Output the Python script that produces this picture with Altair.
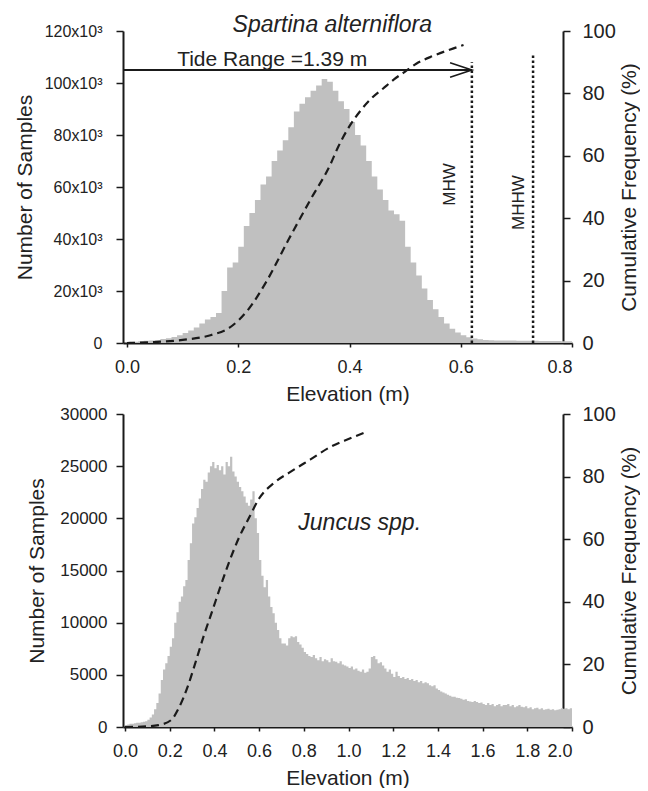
import altair as alt
import pandas as pd

FONT = "Liberation Sans"
GRAY = "#c0c0c0"
INK = "#1a1a1a"

# ---------------- Spartina alterniflora (top) ----------------
top_bin_width = 0.01
top_counts = [
    300, 500, 700, 900, 1000, 1200, 1500, 1800, 2300, 3000,
    3800, 4800, 6000, 7500, 9000, 10000, 11500, 20000, 29000, 31000,
    37000, 45000, 50000, 55000, 61000, 64000, 70000, 74000, 78000, 83000,
    89000, 92000, 94500, 97000, 99000, 101500, 100500, 97000, 93000, 90000,
    85000, 80000, 76000, 70000, 64000, 59000, 55000, 51000, 49500, 47000,
    37000, 31000, 26000, 21000, 16500, 13000, 10000, 7500, 5500, 4000,
    3000, 2200, 1700, 1400, 1200, 1100, 1000, 1000, 950, 950,
    900, 900, 850, 850, 800, 800, 750, 750, 700, 700,
]
top_cum_elev = [0.0, 0.05, 0.10, 0.15, 0.185, 0.217, 0.25, 0.29, 0.33, 0.365,
                0.38, 0.40, 0.42, 0.44, 0.46, 0.48, 0.50, 0.52, 0.55, 0.58, 0.605]
top_cum_pct = [0, 0.3, 1.0, 2.5, 5, 10.5, 19.5, 33, 46, 57,
               63, 69.5, 74.5, 78.5, 81.5, 84.5, 87, 89.5, 92, 94, 95.5]

mhw = 0.62
mhhw = 0.73
mhw_top = 108000
mhhw_top = 110700
tide_y = 105000

# ---------------- Juncus spp. (bottom) ----------------
bot_bin_width = 0.01
bot_counts = [
    200, 250, 300, 300, 350, 400, 400, 450, 500, 550,
    700, 900, 1200, 1700, 2300, 3200, 4500, 5500, 6100, 6800,
    7700, 8500, 10000, 11000, 12000, 12500, 13500, 14100, 16000, 17600,
    19500, 20100, 21000, 21900, 22800, 23700, 23500, 24400, 25000, 25400,
    24800, 25100, 24600, 25000, 24200, 25400, 25000, 25900, 24500, 24000,
    23500, 23000, 22600, 22100, 21500, 21200, 21800, 22600, 20000, 18600,
    16000, 14500, 13400, 14100, 12500, 11500, 10900, 10000, 9300, 8500,
    8000, 8000, 7800, 8500, 8700, 8600, 8700, 8150, 7900, 7600,
    7200, 7000, 6800, 6700, 6900, 6600, 6400, 6700, 6300, 6500,
    6400, 6200, 6600, 6300, 6250, 6100, 6300, 6000, 5900, 5800,
    5650, 5800, 5500, 5600, 5400, 5300, 5500, 5200, 5300, 5600,
    6700, 6800, 6500, 6100, 6200, 5900, 5600, 5300, 5500, 5100,
    4800, 5300, 4900, 4700, 4800, 4600, 4700, 4500, 4600, 4400,
    4500, 4300, 4400, 4200, 4300, 4200, 4000, 3900, 4000, 3700,
    3550, 3400, 3300, 3200, 3100, 3000, 2900, 2900, 2800, 2780,
    2700, 2600, 2650, 2500, 2450, 2400, 2500, 2400, 2300, 2350,
    2200, 2100, 2300, 2100, 2200, 2000, 2100, 2200, 2000, 2100,
    2100, 2200, 2000, 2100, 1900, 2000, 2100, 1950, 1900, 2000,
    1800, 1900, 1700, 1800, 1850, 1700, 1800, 1650, 1700, 1750,
    1650, 1700, 1600, 1650, 1700, 1800, 1750, 1800, 1700, 1800,
]
bot_cum_elev = [0.0, 0.10, 0.15, 0.206, 0.243, 0.28, 0.317, 0.354, 0.39, 0.43,
                0.47, 0.51, 0.556, 0.60, 0.667, 0.74, 0.83, 0.92, 1.0, 1.07]
bot_cum_pct = [0, 0.2, 0.6, 2.2, 6.4, 12.8, 21, 29.5, 37, 45.5,
               53.5, 60.5, 67, 73, 78, 81.5, 85.5, 89.5, 92, 94]


def hist_frame(counts, w):
    xs = [round(i * w, 4) for i in range(len(counts))] + [round(len(counts) * w, 4)]
    ys = list(counts) + [counts[-1]]
    return pd.DataFrame({"elev": xs, "count": ys})


def panel(counts, w, cum_e, cum_p, xdom, xticks, ydom, yticks, ylabel_expr,
          ylab_size, ylab_pad, ytitle_pad, extras, width, height):
    xs = alt.Scale(domain=xdom, nice=False, zero=False)
    ys = alt.Scale(domain=ydom, nice=False)
    xaxis = alt.Axis(values=xticks, format=".1f", title="Elevation (m)",
                     labelFontSize=18, titleFontSize=21, tickSize=4,
                     labelPadding=11, titlePadding=7)
    yaxis = alt.Axis(values=yticks, title="Number of Samples", labelExpr=ylabel_expr,
                     labelFontSize=ylab_size, titleFontSize=21, tickSize=7,
                     labelPadding=ylab_pad, titlePadding=ytitle_pad)
    hist = alt.Chart(hist_frame(counts, w)).mark_area(
        interpolate="step-after", color=GRAY, clip=False
    ).encode(
        x=alt.X("elev:Q", scale=xs, axis=xaxis),
        y=alt.Y("count:Q", scale=ys, axis=yaxis),
    )
    left = alt.layer(hist, *[e(xs, ys) for e in extras])
    cum = alt.Chart(pd.DataFrame({"elev": cum_e, "pct": cum_p})).mark_line(
        interpolate="monotone", color=INK, strokeWidth=2.2, strokeDash=[8, 5]
    ).encode(
        x=alt.X("elev:Q", scale=xs),
        y=alt.Y("pct:Q", scale=alt.Scale(domain=[0, 100], nice=False),
                axis=alt.Axis(orient="right", values=[0, 20, 40, 60, 80, 100],
                              title="Cumulative Frequency (%)", titleAngle=270,
                              labelFontSize=20, titleFontSize=21, tickSize=7,
                              labelPadding=12, titlePadding=24, offset=-9)),
    )
    return alt.layer(left, cum).resolve_scale(y="independent").properties(
        width=width, height=height
    )


def top_extras():
    def title(xs, ys):
        return alt.Chart(pd.DataFrame({"elev": [0.369], "count": [122500],
                                       "t": ["Spartina alterniflora"]})).mark_text(
            font=FONT, fontSize=23, fontStyle="italic", color="#222"
        ).encode(x=alt.X("elev:Q", scale=xs), y=alt.Y("count:Q", scale=ys), text="t:N")

    def tide_text(xs, ys):
        return alt.Chart(pd.DataFrame({"elev": [0.261], "count": [108800],
                                       "t": ["Tide Range =1.39 m"]})).mark_text(
            font=FONT, fontSize=21, color="#222"
        ).encode(x=alt.X("elev:Q", scale=xs), y=alt.Y("count:Q", scale=ys), text="t:N")

    def tide_rule(xs, ys):
        return alt.Chart(pd.DataFrame({"x0": [-0.0072], "x1": [mhw], "count": [tide_y]})).mark_rule(
            color=INK, strokeWidth=2
        ).encode(x=alt.X("x0:Q", scale=xs), x2="x1:Q", y=alt.Y("count:Q", scale=ys))

    def arrow_head(xs, ys):
        return alt.Chart(pd.DataFrame({"elev": [mhw], "count": [tide_y]})).mark_point(
            shape="M -1 -0.33 L 0 0 L -1 0.33", filled=False, size=1900,
            color=INK, strokeWidth=1.6, opacity=1
        ).encode(x=alt.X("elev:Q", scale=xs), y=alt.Y("count:Q", scale=ys))

    def levels(xs, ys):
        return alt.Chart(pd.DataFrame({"elev": [mhw, mhhw], "top": [mhw_top, mhhw_top],
                                       "base": [0, 0]})).mark_rule(
            color=INK, strokeWidth=2.5, strokeDash=[2.5, 2.5]
        ).encode(x=alt.X("elev:Q", scale=xs), y=alt.Y("base:Q", scale=ys), y2="top:Q")

    def level_text(xs, ys):
        return alt.Chart(pd.DataFrame({"elev": [0.581, 0.705], "count": [61000, 54000],
                                       "t": ["MHW", "MHHW"]})).mark_text(
            font=FONT, fontSize=17, angle=270, color="#222"
        ).encode(x=alt.X("elev:Q", scale=xs), y=alt.Y("count:Q", scale=ys), text="t:N")

    return [tide_rule, arrow_head, levels, level_text, tide_text, title]


def bottom_extras():
    def label(xs, ys):
        return alt.Chart(pd.DataFrame({"elev": [1.05], "count": [19550],
                                       "t": ["Juncus spp."]})).mark_text(
            font=FONT, fontSize=23, fontStyle="italic", color="#222"
        ).encode(x=alt.X("elev:Q", scale=xs), y=alt.Y("count:Q", scale=ys), text="t:N")
    return [label]


top = panel(
    top_counts, top_bin_width, top_cum_elev, top_cum_pct,
    [-0.0072, 0.8], [0, 0.2, 0.4, 0.6, 0.8],
    [0, 120000], [0, 20000, 40000, 60000, 80000, 100000, 120000],
    "datum.value == 0 ? '0' : (datum.value / 1000) + 'x10³'",
    16, 14, 8.5, top_extras(), 449, 312,
)
bottom = panel(
    bot_counts, bot_bin_width, bot_cum_elev, bot_cum_pct,
    [-0.009, 2.0], [0, 0.2, 0.4, 0.6, 0.8, 1.0, 1.2, 1.4, 1.6, 1.8, 2.0],
    [0, 30000], [0, 5000, 10000, 15000, 20000, 25000, 30000],
    "datum.value + ''",
    17, 9, 12.5, bottom_extras(), 449, 313,
)

chart = alt.vconcat(top, bottom, spacing=0).resolve_scale(
    x="independent", y="independent"
).properties(
    padding={"left": 6, "top": 5, "right": 0, "bottom": 0}
).configure_view(stroke=None).configure_axis(
    grid=False, domainColor=INK, domainWidth=2, tickColor=INK, tickWidth=1.5,
    labelColor="#222", titleColor="#222", labelFont=FONT, titleFont=FONT,
    titleFontWeight="normal",
).configure_text(font=FONT)

chart.save("out.html", embed_options={"renderer": "svg", "actions": False})
